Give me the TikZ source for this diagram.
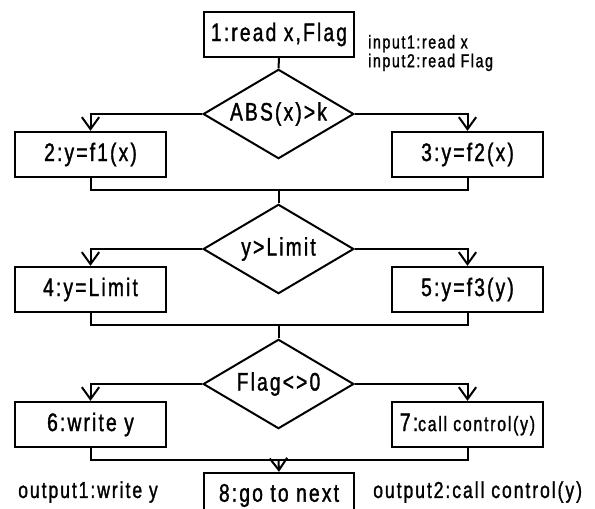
\documentclass[tikz,border=0pt]{standalone}
\usepackage{fontspec}
\setmainfont{Liberation Sans}[FakeStretch=0.76,FakeBold=1.3,LetterSpace=8.5]
\usetikzlibrary{shapes.geometric,arrows.meta}

\tikzset{
  flow/.style={line width=1.5pt},
  into/.style={flow,-{Straight Barb[length=9pt,width=13pt,line width=1.5pt]}},
  proc/.style={draw,flow,minimum width=113pt,minimum height=34pt,inner sep=0pt,
    font=\fontsize{19}{21}\selectfont},
  cond/.style={draw,flow,diamond,aspect=1.7,minimum width=113pt,minimum height=67pt,
    inner sep=0pt,font=\fontsize{19}{21}\selectfont},
  note/.style={anchor=west,inner sep=0pt,align=left}
}

\begin{document}
\begin{tikzpicture}[x=0.75pt,y=0.75pt,yscale=-1,xscale=1]
\useasboundingbox (0,0) rectangle (595,508);

% process boxes and decisions
\node[proc] (read) at (279,34.5) {1:read x,Flag};
\node[cond] (absx) at (278.5,114) {ABS(x)>k};
\node[proc] (f1) at (90.5,154.5) {2:y=f1(x)};
\node[proc] (f2) at (467.5,154.5) {3:y=f2(x)};
\coordinate (j1) at (278.5,190);
\node[cond] (ylim) at (278.5,249) {y>Limit};
\node[proc] (lim) at (90.5,289.5) {4:y=Limit};
\node[proc] (f3) at (467.5,289.5) {5:y=f3(y)};
\coordinate (j2) at (278.5,325);
\node[cond] (flag) at (278.5,384) {Flag<>0};
\node[proc] (wr) at (90.5,424.5) {6:write y};
\node[proc] (ctrl) at (467.5,424.5) {7:{\fontsize{15.6}{17}\selectfont call control(y)}};
\coordinate (j3) at (278.5,460);
\node[proc] (next) at (279,495.5) {8:go to next};

% notes
\node[note,font=\fontsize{14}{12}\selectfont] (inp) at (368,53) {input1:read x\\input2:read Flag};
\node[note,font=\fontsize{17.3}{19}\selectfont] (out1) at (18,492) {output1:write y};
\node[note,font=\fontsize{17.3}{19}\selectfont] (out2) at (373,492) {output2:call control(y)};

% connectors
\draw[flow] (read.south) -- (absx.north);
\draw[into] (absx.west) -| (f1.north);
\draw[into] (absx.east) -| (f2.north);
\draw[flow] (f1.south) |- (j1) -| (f2.south);
\draw[flow] (j1) -- (ylim.north);
\draw[into] (ylim.west) -| (lim.north);
\draw[into] (ylim.east) -| (f3.north);
\draw[flow] (lim.south) |- (j2) -| (f3.south);
\draw[flow] (j2) -- (flag.north);
\draw[into] (flag.west) -| (wr.north);
\draw[into] (flag.east) -| (ctrl.north);
\draw[flow] (wr.south) |- (j3) -| (ctrl.south);
\draw[into] (j3) -- (next.north);

\end{tikzpicture}
\end{document}
